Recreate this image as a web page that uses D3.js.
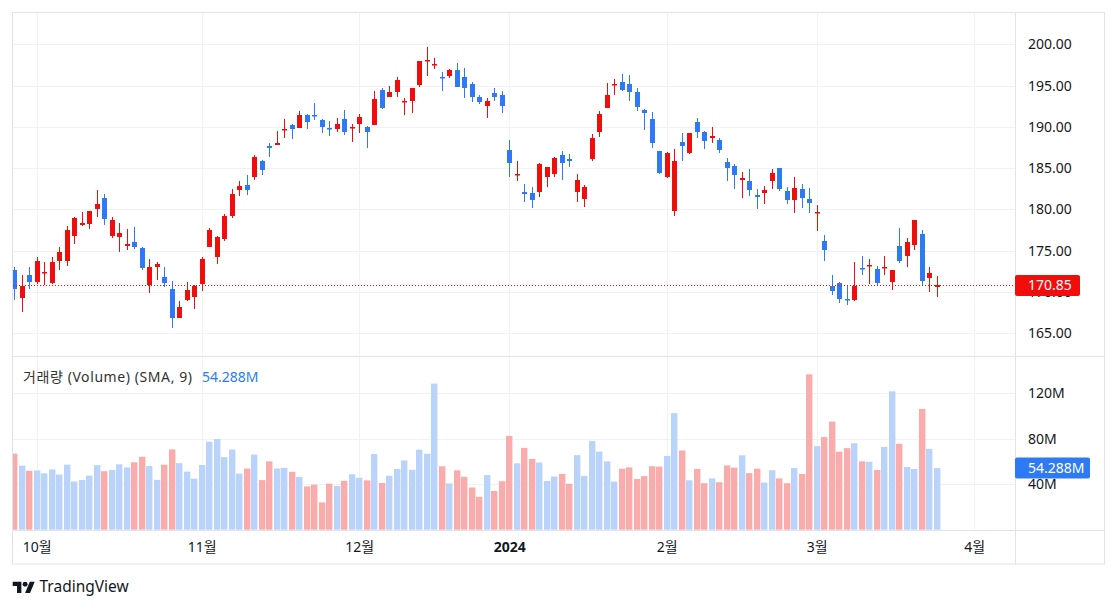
<!DOCTYPE html>
<html><head><meta charset="utf-8">
<script src="https://cdn.jsdelivr.net/npm/d3@7"></script>
<style>
html,body{margin:0;padding:0;background:#fff;}
svg{display:block;font-family:'Noto Sans','Noto Sans CJK KR',sans-serif;}
</style></head><body>
<svg id="c" width="1118" height="609"></svg>
<script>
// ---- data (AAPL daily) ----
const dates = ["2023-09-27","2023-09-28","2023-09-29",
"2023-10-02","2023-10-03","2023-10-04","2023-10-05","2023-10-06","2023-10-09","2023-10-10","2023-10-11","2023-10-12","2023-10-13","2023-10-16","2023-10-17","2023-10-18","2023-10-19","2023-10-20","2023-10-23","2023-10-24","2023-10-25","2023-10-26","2023-10-27","2023-10-30","2023-10-31",
"2023-11-01","2023-11-02","2023-11-03","2023-11-06","2023-11-07","2023-11-08","2023-11-09","2023-11-10","2023-11-13","2023-11-14","2023-11-15","2023-11-16","2023-11-17","2023-11-20","2023-11-21","2023-11-22","2023-11-24","2023-11-27","2023-11-28","2023-11-29","2023-11-30",
"2023-12-01","2023-12-04","2023-12-05","2023-12-06","2023-12-07","2023-12-08","2023-12-11","2023-12-12","2023-12-13","2023-12-14","2023-12-15","2023-12-18","2023-12-19","2023-12-20","2023-12-21","2023-12-22","2023-12-26","2023-12-27","2023-12-28","2023-12-29",
"2024-01-02","2024-01-03","2024-01-04","2024-01-05","2024-01-08","2024-01-09","2024-01-10","2024-01-11","2024-01-12","2024-01-16","2024-01-17","2024-01-18","2024-01-19","2024-01-22","2024-01-23","2024-01-24","2024-01-25","2024-01-26","2024-01-29","2024-01-30","2024-01-31",
"2024-02-01","2024-02-02","2024-02-05","2024-02-06","2024-02-07","2024-02-08","2024-02-09","2024-02-12","2024-02-13","2024-02-14","2024-02-15","2024-02-16","2024-02-20","2024-02-21","2024-02-22","2024-02-23","2024-02-26","2024-02-27","2024-02-28","2024-02-29",
"2024-03-01","2024-03-04","2024-03-05","2024-03-06","2024-03-07","2024-03-08","2024-03-11","2024-03-12","2024-03-13","2024-03-14","2024-03-15","2024-03-18","2024-03-19","2024-03-20","2024-03-21","2024-03-22","2024-03-25"];
const futureDates = ["2024-03-26","2024-03-27","2024-03-28","2024-03-29","2024-04-01","2024-04-02","2024-04-03","2024-04-04","2024-04-05","2024-04-08","2024-04-09","2024-04-10","2024-04-11","2024-04-12","2024-04-15"];

const open = [172.62,169.34,172.02,
171.22,172.26,171.09,173.79,173.80,176.81,178.10,178.20,180.07,181.42,176.75,176.65,175.58,176.04,175.31,170.91,173.05,171.88,170.37,166.91,169.02,169.35,
171.00,175.52,174.24,176.38,179.18,182.35,182.96,183.97,185.82,187.70,187.85,189.57,190.25,189.89,191.41,191.49,190.87,189.92,189.78,190.90,189.84,
190.33,189.98,190.21,194.45,193.63,194.20,193.11,193.08,195.09,198.02,197.53,196.09,196.16,196.90,196.10,195.18,193.61,192.49,194.14,193.90,
187.15,184.22,182.15,181.99,182.09,183.92,184.35,186.54,186.06,182.16,181.27,186.09,189.33,192.30,195.02,195.42,195.22,194.27,192.01,190.94,187.04,
183.99,179.86,188.15,186.86,190.64,189.39,188.65,188.42,185.77,185.32,183.55,183.42,181.79,181.94,183.48,185.01,182.24,181.10,182.51,181.27,
179.55,176.15,170.76,171.06,169.15,169.00,172.94,173.15,172.77,172.91,171.17,175.57,174.34,175.72,177.05,171.76,170.57];
const high = [173.04,172.03,173.07,
174.30,173.63,174.21,175.45,177.99,179.05,179.72,179.85,182.34,181.93,179.08,178.42,177.58,177.84,175.42,174.01,173.67,173.06,171.38,168.96,171.17,170.90,
174.23,177.78,176.82,179.43,182.44,183.45,184.12,186.57,186.03,188.11,189.50,190.96,190.38,191.91,191.52,192.93,190.90,190.67,191.08,192.09,190.32,
191.56,190.05,194.40,194.76,195.00,195.99,193.49,194.72,198.00,199.62,198.40,196.63,196.95,197.68,197.08,195.41,193.89,193.50,194.66,194.40,
188.44,185.88,183.09,182.76,185.60,185.15,186.40,187.05,186.74,184.26,182.93,189.14,191.95,195.33,195.75,196.38,196.27,194.76,192.20,191.80,187.10,
186.95,187.33,189.25,189.31,191.05,189.54,189.99,188.67,186.21,185.53,184.49,184.85,182.43,182.89,184.96,185.04,182.76,183.92,183.12,182.57,
180.53,176.90,172.04,171.24,170.73,173.70,174.38,174.03,173.19,174.31,172.62,177.71,176.61,178.67,177.49,173.05,171.94];
const low = [169.05,167.62,170.34,
170.93,170.82,170.97,172.68,173.18,175.80,177.95,177.60,179.04,178.14,176.51,174.80,175.11,175.19,172.64,169.93,171.45,170.65,165.67,166.83,168.87,167.90,
170.12,175.46,173.35,176.21,178.97,181.59,181.81,183.53,184.21,186.30,187.78,188.65,188.57,189.88,189.74,190.83,189.25,188.90,189.40,188.97,188.19,
189.23,187.45,190.18,192.11,193.59,193.67,191.42,191.72,194.85,196.16,197.00,194.39,195.89,194.83,193.50,192.97,192.83,191.09,193.17,191.73,
183.89,183.43,180.88,180.17,181.50,182.73,183.92,183.62,185.19,180.93,180.30,185.83,188.82,192.26,193.83,194.34,193.11,191.94,189.58,187.47,184.35,
183.82,179.25,185.84,186.77,188.61,187.35,188.00,186.79,183.51,182.44,181.35,181.67,180.00,180.66,182.46,182.23,180.65,179.56,180.13,179.53,
177.38,173.79,169.62,168.68,168.49,168.94,172.05,171.01,170.76,172.05,170.29,173.52,173.03,175.09,170.84,170.06,169.45];
const close = [170.43,170.69,171.21,
173.75,172.40,173.66,174.91,177.49,178.99,178.39,179.80,180.71,178.85,178.72,177.15,175.84,175.46,172.88,173.00,173.44,171.10,166.89,168.22,170.29,170.77,
173.97,177.57,176.65,179.23,181.82,182.89,182.41,186.40,184.80,187.44,188.01,189.71,189.69,191.45,190.64,191.31,189.97,189.79,190.40,189.37,189.95,
191.24,189.43,193.42,192.32,194.27,195.71,193.18,194.71,197.96,198.11,197.57,195.89,196.94,194.83,194.68,193.60,193.05,193.15,193.58,192.53,
185.64,184.25,181.91,181.18,185.56,185.14,186.19,185.59,185.92,183.63,182.68,188.63,191.56,193.89,195.18,194.50,194.17,192.42,191.73,188.04,184.40,
186.86,185.85,187.68,189.30,189.41,188.32,188.85,187.15,185.04,184.15,183.86,182.31,181.56,182.32,184.37,182.52,181.16,182.63,181.42,180.75,
179.66,175.10,170.12,169.12,169.00,170.73,172.75,173.23,171.13,173.00,172.62,173.72,176.08,178.67,171.37,172.28,170.85];
const volume = [66.92,56.29,51.81,
52.16,49.59,53.02,48.53,57.22,42.39,43.70,47.55,56.74,51.43,52.52,57.55,54.76,59.30,64.19,55.98,43.82,57.16,70.63,58.50,51.13,44.85,
56.93,77.33,79.83,63.84,70.53,49.34,53.76,66.13,43.63,60.11,53.79,54.41,50.92,46.51,38.13,39.62,24.05,40.55,38.42,43.01,48.79,
45.68,43.39,66.63,41.09,47.48,53.38,60.94,52.70,70.40,66.83,128.54,55.75,40.71,52.24,46.48,37.15,28.92,48.09,34.05,42.67,
82.49,58.41,71.98,62.30,59.14,42.84,46.79,49.13,40.44,65.60,47.32,78.01,68.74,60.13,42.36,53.63,54.82,44.59,47.15,55.86,55.47,
64.89,102.52,69.67,43.49,53.44,40.96,45.16,41.78,56.53,54.63,65.43,49.75,53.67,41.53,52.29,45.12,40.87,54.32,48.95,136.68,
73.49,81.51,95.13,68.59,71.77,76.11,60.14,59.83,52.49,72.91,121.75,75.60,55.22,53.42,106.18,71.11,54.288];

const monthTickDates = ["2023-10-02","2023-11-01","2023-12-01","2024-01-02","2024-02-01","2024-03-01","2024-04-01"];
const monthTickLabels = ["10월","11월","12월","2024","2월","3월","4월"];
const priceTicks = [165,170,175,180,185,190,195,200];
const volumeTicks = [40,80,120];
const lastPrice = 170.85;
const lastVolume = 54.288;
const legendTitle = "거래량 (Volume) (SMA, 9)";

// ---- layout ----
const L = 13, R = 1015, TOP = 13, RIGHT = 1105, BOTTOM = 564;
const priceBottom = 356, volTop = 357, volBottom = 530;
const UP = "#f20d0d", DOWN = "#2e7af5";
const UP_V = "#faabab", DOWN_V = "#bad3fa";
const GRID = "#f0f2f7", BORDER = "#e0e3eb", TEXT = "#131722";

const svg = d3.select("#c");
const allDates = dates.concat(futureDates);
const step = 7.5;
const xs = d3.scalePoint().domain(allDates).range([14.2, 14.2 + (allDates.length - 1) * step]);
const yP = d3.scaleLinear().domain([165, 200]).range([333.4, 44.3]);
const yV = d3.scaleLinear().domain([0, 120]).range([529.7, 393.3]);

const defs = svg.append("defs");
defs.append("clipPath").attr("id", "cp").append("rect").attr("x", L).attr("y", TOP).attr("width", R - L).attr("height", priceBottom - TOP);
defs.append("clipPath").attr("id", "cv").append("rect").attr("x", L).attr("y", volTop).attr("width", R - L).attr("height", volBottom - volTop);

// grid
const grid = svg.append("g");
grid.selectAll("line.hp").data(priceTicks).join("line")
  .attr("x1", L).attr("x2", R).attr("y1", d => Math.round(yP(d)) + 0.5).attr("y2", d => Math.round(yP(d)) + 0.5)
  .attr("stroke", GRID);
grid.selectAll("line.hv").data(volumeTicks).join("line")
  .attr("x1", L).attr("x2", R).attr("y1", d => Math.round(yV(d)) + 0.5).attr("y2", d => Math.round(yV(d)) + 0.5)
  .attr("stroke", GRID);
grid.selectAll("line.vp").data(monthTickDates).join("line")
  .attr("x1", d => Math.round(xs(d)) + 0.5).attr("x2", d => Math.round(xs(d)) + 0.5)
  .attr("y1", TOP).attr("y2", priceBottom).attr("stroke", GRID);
grid.selectAll("line.vv").data(monthTickDates).join("line")
  .attr("x1", d => Math.round(xs(d)) + 0.5).attr("x2", d => Math.round(xs(d)) + 0.5)
  .attr("y1", volTop).attr("y2", volBottom).attr("stroke", GRID);

// frame & separators
svg.append("rect").attr("x", 12.5).attr("y", 12.5).attr("width", RIGHT - 12.5 - 0.5).attr("height", BOTTOM - 12.5)
  .attr("fill", "none").attr("stroke", BORDER);
svg.append("line").attr("x1", 12.5).attr("x2", RIGHT - 0.5).attr("y1", priceBottom + 0.5).attr("y2", priceBottom + 0.5).attr("stroke", BORDER);
svg.append("line").attr("x1", 12.5).attr("x2", RIGHT - 0.5).attr("y1", volBottom + 0.5).attr("y2", volBottom + 0.5).attr("stroke", BORDER);
svg.append("line").attr("x1", R + 0.5).attr("x2", R + 0.5).attr("y1", 12.5).attr("y2", BOTTOM + 0.5).attr("stroke", BORDER);

const idx = d3.range(dates.length);
const cx = i => Math.round(xs(dates[i]));
const isUp = i => close[i] >= open[i];

// volume bars (coloured by close vs open: down = red, up = blue as in the reference)
svg.append("g").attr("clip-path", "url(#cv)")
  .selectAll("rect").data(idx).join("rect")
  .attr("x", i => cx(i) - 3).attr("width", 6.4)
  .attr("y", i => yV(volume[i])).attr("height", i => yV(0) - yV(volume[i]))
  .attr("fill", i => close[i] < open[i] ? UP_V : DOWN_V);

// candles
const cg = svg.append("g").attr("clip-path", "url(#cp)");
cg.selectAll("line").data(idx).join("line")
  .attr("x1", i => cx(i) + 0.5).attr("x2", i => cx(i) + 0.5)
  .attr("y1", i => Math.round(yP(high[i]))).attr("y2", i => Math.round(yP(low[i])))
  .attr("stroke", i => isUp(i) ? UP : DOWN).attr("stroke-width", 1);
cg.selectAll("rect").data(idx).join("rect")
  .attr("x", i => cx(i) - 2).attr("width", 5)
  .attr("y", i => Math.round(yP(Math.max(open[i], close[i]))))
  .attr("height", i => Math.max(1.5, Math.round(yP(Math.min(open[i], close[i]))) - Math.round(yP(Math.max(open[i], close[i])))))
  .attr("fill", i => isUp(i) ? UP : DOWN);

// last price dotted line
svg.append("line").attr("x1", L).attr("x2", R)
  .attr("y1", Math.round(yP(lastPrice)) + 0.5).attr("y2", Math.round(yP(lastPrice)) + 0.5)
  .attr("stroke", UP).attr("stroke-width", 1).attr("stroke-dasharray", "1,2");

// price axis
const pa = svg.append("g").attr("transform", `translate(${R},0)`)
  .call(d3.axisRight(yP).tickValues(priceTicks).tickFormat(d3.format(".2f")).tickSize(0).tickPadding(13));
pa.select(".domain").remove();
pa.selectAll("text").attr("font-size", 14).attr("fill", TEXT).attr("font-family", "'Noto Sans',sans-serif");

// volume axis
const va = svg.append("g").attr("transform", `translate(${R},0)`)
  .call(d3.axisRight(yV).tickValues(volumeTicks).tickFormat(d => d + "M").tickSize(0).tickPadding(13));
va.select(".domain").remove();
va.selectAll("text").attr("font-size", 14).attr("fill", TEXT).attr("font-family", "'Noto Sans',sans-serif");

// time axis
const ta = svg.append("g").attr("transform", `translate(0,${volBottom})`)
  .call(d3.axisBottom(xs).tickValues(monthTickDates).tickFormat((d, i) => monthTickLabels[i]).tickSize(0).tickPadding(12));
ta.select(".domain").remove();
ta.selectAll("text").attr("font-size", 14).attr("fill", TEXT)
  .attr("font-family", "'Noto Sans','Noto Sans CJK KR',sans-serif")
  .attr("font-weight", d => d === "2024-01-02" ? "bold" : "normal");

// price label box (overlaps the 170.00 tick label, as in the reference)
const ly = yP(lastPrice);
svg.append("rect").attr("x", R).attr("y", Math.round(ly) - 10).attr("width", 65).attr("height", 21).attr("rx", 2).attr("fill", UP);
svg.append("text").attr("x", R + 13).attr("y", ly).attr("dy", "0.36em").attr("font-size", 14).attr("fill", "#fff")
  .attr("font-family", "'Noto Sans',sans-serif").text(lastPrice.toFixed(2));

// volume label box (overlaps the 40M tick label, as in the reference)
const vy = yV(lastVolume);
svg.append("rect").attr("x", R).attr("y", Math.round(vy) - 10.5).attr("width", 75).attr("height", 21).attr("rx", 2).attr("fill", DOWN);
svg.append("text").attr("x", R + 13).attr("y", vy).attr("dy", "0.36em").attr("font-size", 14).attr("fill", "#fff")
  .attr("font-family", "'Noto Sans',sans-serif").text(lastVolume.toFixed(3) + "M");

// legend
svg.append("text").attr("x", 23).attr("y", 382).attr("font-size", 14).attr("fill", "#333")
  .attr("textLength", 169).attr("lengthAdjust", "spacing")
  .text(legendTitle);
svg.append("text").attr("x", 202).attr("y", 382).attr("font-size", 14).attr("fill", DOWN)
  .attr("font-family", "'Noto Sans',sans-serif").text(lastVolume.toFixed(3) + "M");

// TradingView logo
const lg = svg.append("g").attr("transform", "translate(12.7,579.3) scale(0.62)").attr("fill", TEXT);
lg.append("path").attr("d", "M14 22H7V11H0V4h14v18zM28 22h-8l7.5-18h8L28 22z");
lg.append("circle").attr("cx", 20).attr("cy", 8).attr("r", 4);
svg.append("text").attr("x", 39.5).attr("y", 592).attr("font-size", 15.5).attr("fill", TEXT)
  .attr("font-family", "'Noto Sans',sans-serif").text("TradingView");
</script>
</body></html>
